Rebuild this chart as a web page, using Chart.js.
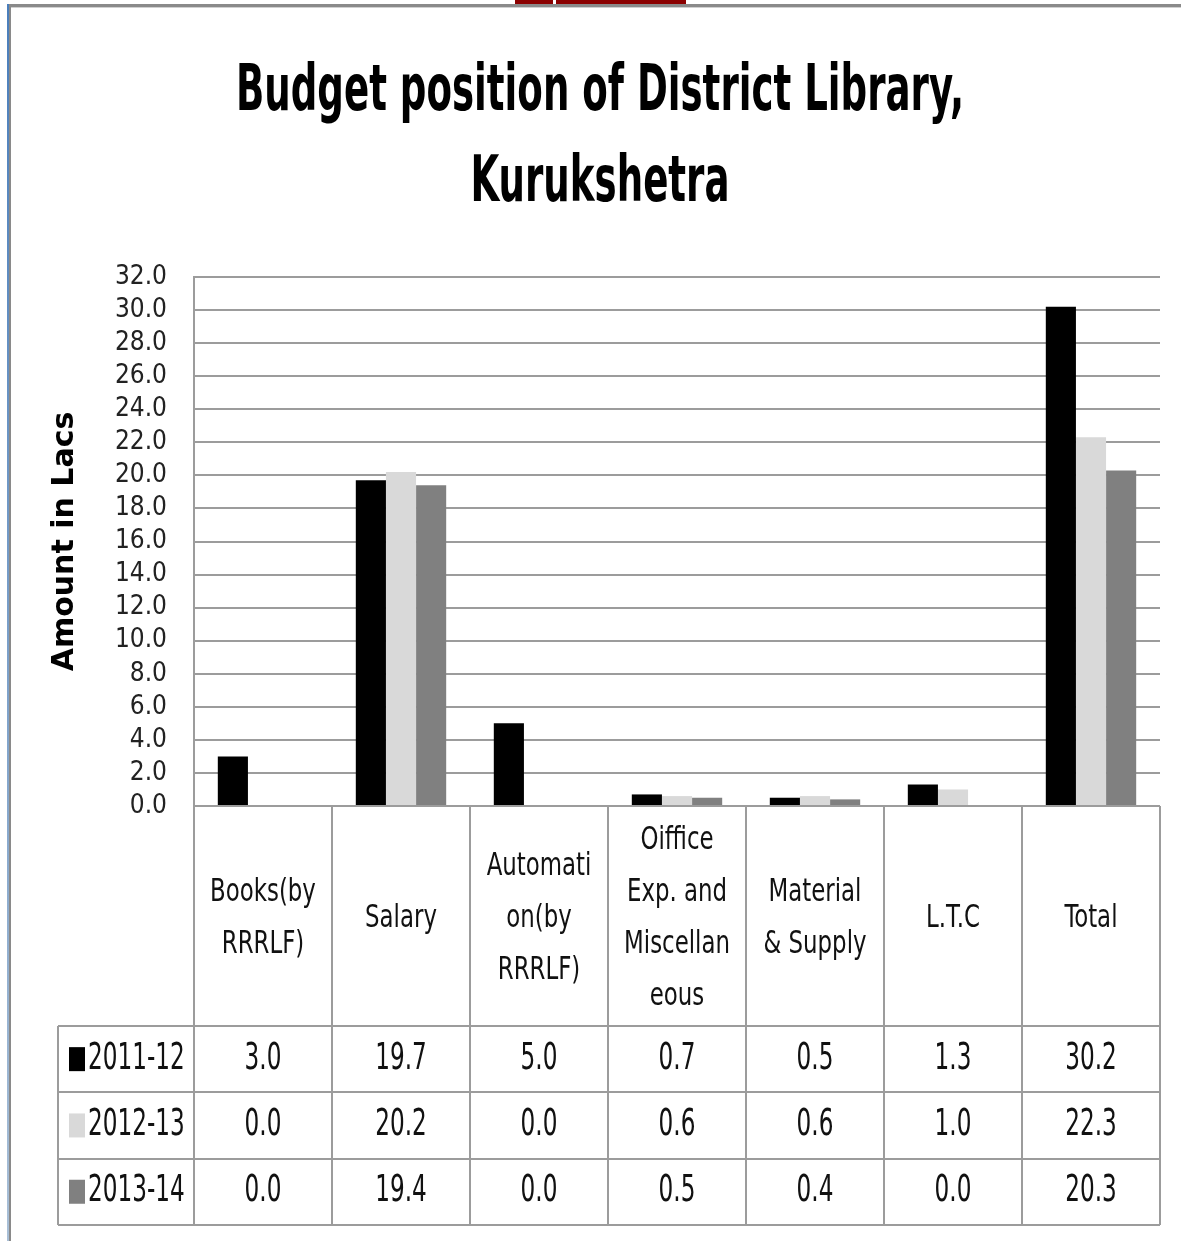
<!DOCTYPE html>
<html>
<head>
<meta charset="utf-8">
<title>Budget position of District Library, Kurukshetra</title>
<script src="https://cdn.jsdelivr.net/npm/chart.js@4.4.1/dist/chart.umd.min.js"></script>
<style>
  html, body { margin: 0; padding: 0; background: #fff; }
  #wrap { position: relative; width: 1181px; height: 1241px; }
</style>
</head>
<body>
<div id="wrap"><canvas id="budget_chart"></canvas></div>
<script>
// chart data
const titleLines = ['Budget position of District Library,', 'Kurukshetra'];
const categories = [
    ['Books(by', 'RRRLF)'],
    ['Salary'],
    ['Automati', 'on(by', 'RRRLF)'],
    ['Oiffice', 'Exp. and', 'Miscellan', 'eous'],
    ['Material', '& Supply'],
    ['L.T.C'],
    ['Total']
];
const years = ['2011-12', '2012-13', '2013-14'];
const values2011 = [3.0, 19.7, 5.0, 0.7, 0.5, 1.3, 30.2];
const values2012 = [0.0, 20.2, 0.0, 0.6, 0.6, 1.0, 22.3];
const values2013 = [0.0, 19.4, 0.0, 0.5, 0.4, 0.0, 20.3];
const seriesColors = ['#000000', '#d9d9d9', '#808080'];
const yMin = 0, yMax = 32, yStep = 2;
const yTitle = 'Amount in Lacs';

const NARROW = '"DejaVu Sans Condensed", "Liberation Sans", sans-serif';
const LINE = '#9c9c9c';

// text squeezed sideways and stretched upward, like the slide's Calibri
function stretchText(ctx, text, x, y, sx, sy) {
    ctx.save();
    ctx.translate(x, y);
    ctx.scale(sx, sy);
    ctx.fillText(text, 0, 0);
    ctx.restore();
}

// slide frame, title and the data table under the plot
const tablePlugin = {
    id: 'dataTable',
    beforeDraw(chart) {
        const ctx = chart.ctx;
        ctx.save();
        ctx.fillStyle = '#8b0000';
        ctx.fillRect(515, 0, 38, 4);
        ctx.fillRect(556, 0, 130, 4);
        ctx.fillStyle = '#8a8a8a';
        ctx.fillRect(7, 4, 1174, 3);
        ctx.fillStyle = '#d0d0d0';
        ctx.fillRect(10, 7, 1171, 1);
        const grad = ctx.createLinearGradient(0, 4, 0, 1241);
        grad.addColorStop(0, '#4a7ebb');
        grad.addColorStop(1, '#a9bfd6');
        ctx.fillStyle = grad;
        ctx.fillRect(7, 4, 2, 1237);
        ctx.fillStyle = '#8a8a8a';
        ctx.fillRect(9, 7, 2, 1234);

        ctx.fillStyle = '#000';
        ctx.textAlign = 'center';
        ctx.textBaseline = 'alphabetic';
        ctx.font = 'bold 54px ' + NARROW;
        stretchText(ctx, titleLines[0], 600, 110, 0.765, 1.2);
        stretchText(ctx, titleLines[1], 600, 201, 0.765, 1.2);
        ctx.restore();
    },
    afterDraw(chart) {
        const ctx = chart.ctx;
        const area = chart.chartArea;
        const n = categories.length;
        const colW = (area.right - area.left) / n;
        const headBottom = area.bottom + 220;
        const rowH = 66.3;
        const tableBottom = headBottom + rowH * years.length;
        const labelLeft = 58;
        const series = [values2011, values2012, values2013];

        ctx.save();
        ctx.strokeStyle = LINE;
        ctx.lineWidth = 2;
        ctx.beginPath();
        for (let i = 0; i <= n; i++) {
            const x = Math.round(area.left + i * colW);
            ctx.moveTo(x, area.bottom);
            ctx.lineTo(x, tableBottom);
        }
        ctx.moveTo(labelLeft, headBottom);
        ctx.lineTo(labelLeft, tableBottom);
        for (let r = 0; r <= years.length; r++) {
            const y = Math.round(headBottom + r * rowH);
            ctx.moveTo(labelLeft, y);
            ctx.lineTo(area.right, y);
        }
        ctx.stroke();

        ctx.fillStyle = '#111';
        ctx.textAlign = 'center';
        ctx.textBaseline = 'middle';
        ctx.font = '31px ' + NARROW;
        const headMid = (area.bottom + headBottom) / 2 + 3;
        categories.forEach((lines, i) => {
            const cx = chart.scales.x.getPixelForValue(i);
            lines.forEach((t, j) => {
                stretchText(ctx, t, cx, headMid + (j - (lines.length - 1) / 2) * 52, 0.82, 1.05);
            });
        });

        years.forEach((yr, r) => {
            const cy = headBottom + (r + 0.5) * rowH;
            ctx.fillStyle = seriesColors[r];
            ctx.fillRect(69, cy - 12, 16, 24);
            ctx.fillStyle = '#111';
            ctx.textAlign = 'left';
            stretchText(ctx, yr, 88, cy, 0.83, 1.2);
            ctx.textAlign = 'center';
            series[r].forEach((v, i) => {
                stretchText(ctx, v.toFixed(1), chart.scales.x.getPixelForValue(i), cy, 0.83, 1.2);
            });
        });
        ctx.restore();
    }
};

const ctx = document.getElementById('budget_chart').getContext('2d');
new Chart(ctx, {
    type: 'bar',
    data: {
        labels: categories,
        datasets: years.map((yr, k) => ({
            label: yr,
            data: [values2011, values2012, values2013][k],
            backgroundColor: seriesColors[k],
            borderWidth: 0,
            categoryPercentage: 0.655,
            barPercentage: 1.0
        }))
    },
    options: {
        responsive: true,
        maintainAspectRatio: false,
        animation: false,
        layout: { padding: { top: 277, left: 40, right: 21, bottom: 0 } },
        plugins: {
            legend: { display: false },
            title: { display: false },
            tooltip: { enabled: false }
        },
        scales: {
            x: {
                ticks: { display: false },
                grid: { display: false },
                border: { display: false },
                afterFit: (scale) => { scale.height = 435; }
            },
            y: {
                min: yMin,
                max: yMax,
                ticks: {
                    stepSize: yStep,
                    autoSkip: false,
                    padding: 27,
                    color: '#222',
                    font: { family: '"DejaVu Sans Condensed", sans-serif', size: 26 },
                    callback: (v) => Number(v).toFixed(1)
                },
                grid: { color: LINE, lineWidth: 2, drawTicks: false },
                border: { color: LINE, width: 2 },
                title: {
                    display: true,
                    text: yTitle,
                    color: '#000',
                    padding: { top: 7, bottom: 0 },
                    font: { family: '"DejaVu Sans", Verdana, sans-serif', size: 30, weight: 'bold' }
                },
                afterFit: (scale) => { scale.width = 154; }
            }
        }
    },
    plugins: [tablePlugin]
});
</script>
</body>
</html>
